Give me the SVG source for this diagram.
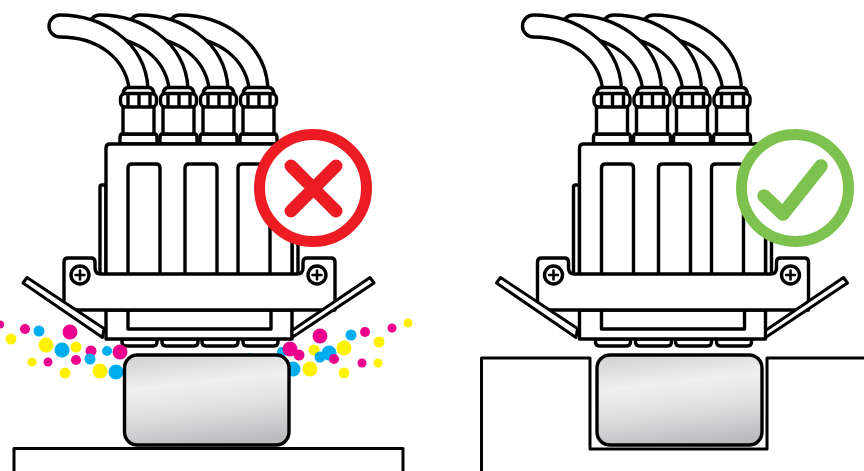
<svg xmlns="http://www.w3.org/2000/svg" xmlns:xlink="http://www.w3.org/1999/xlink" width="864" height="471" viewBox="0 0 864 471">
<style>
.l{fill:#fff;stroke:#000;stroke-width:3.400;stroke-linejoin:round;stroke-linecap:round}
.n{fill:none;stroke:#000;stroke-width:3.400;stroke-linejoin:round;stroke-linecap:round}
.t{fill:none;stroke:#000;stroke-width:3;stroke-linejoin:round;stroke-linecap:butt}
.m{fill:#ec008c}.c{fill:#00aeef}.y{fill:#fff200}
</style>
<defs>
<linearGradient id="g" gradientUnits="userSpaceOnUse" x1="200" y1="355" x2="210" y2="445">
<stop offset="0" stop-color="#d6d6d7"/><stop offset=".3" stop-color="#f0f0f0"/><stop offset=".6" stop-color="#e0e0e1"/><stop offset="1" stop-color="#bcbcbf"/>
</linearGradient>
<linearGradient id="g2" gradientUnits="userSpaceOnUse" x1="674" y1="355" x2="684" y2="445">
<stop offset="0" stop-color="#d6d6d7"/><stop offset=".3" stop-color="#f0f0f0"/><stop offset=".6" stop-color="#e0e0e1"/><stop offset="1" stop-color="#bcbcbf"/>
</linearGradient>
<path id="tube" class="l" d="M60 15C100 15 145 40 148 88L129 88C125 60 100 37 60 37A11 11 0 0 1 60 15Z"/>
<g id="conn">
<path class="l" d="M122 134H155Q157 134 157 138V144H120V138Q120 134 122 134Z"/>
<rect class="l" x="123" y="106" width="31" height="28"/>
<path class="l" d="M123 95Q123 87.500 129 87.500H148Q154 87.500 154 95Z"/>
<rect class="l" x="120.500" y="93.500" width="36" height="13.500" rx="5"/>
<path class="n" d="M128 94V106M139 94V106M150 94V106"/>
</g>
<g id="screw">
<circle class="l" r="9"/>
<path class="n" d="M-4.500 0H4.500M0 -4.500V4.500" style="stroke-width:2.600"/>
</g>
<g id="head">
<use xlink:href="#tube" x="120"/><use xlink:href="#tube" x="80"/><use xlink:href="#tube" x="40"/><use xlink:href="#tube"/>
<use xlink:href="#conn"/><use xlink:href="#conn" x="40"/><use xlink:href="#conn" x="80"/><use xlink:href="#conn" x="120"/>
<path class="l" d="M100 275V187Q100 185 102 185H106V275ZM292 275V185H298V275Z"/>
<path class="l" d="M106 275V148Q106 144 110 144H288Q292 144 292 148V275Z"/>
<path class="n" d="M128 275V168Q128 164 132 164H156Q160 164 160 168V275M185 275V168Q185 164 189 164H213Q217 164 217 168V275M238 275V168Q238 164 242 164H266Q270 164 270 168V275"/>
<path class="l" d="M122 339H157V342Q157 346 153 346H126Q122 346 122 342ZM162 339H198V342Q198 346 194 346H166Q162 346 162 342ZM202 339H238V342Q238 346 234 346H206Q202 346 202 342ZM243 339H278V342Q278 346 274 346H247Q243 346 243 342Z"/>
<path class="l" d="M106 310V339H292V310Z"/>
<path class="n" d="M128 310V329H271V310"/>
<path class="l" d="M64 310V262Q64 258 68 258H91Q95 258 95 262V268Q95 274 101 274H297Q303 274 303 268V262Q303 258 307 258H331Q335 258 335 262V310Z"/>
<use xlink:href="#screw" x="80" y="275"/><use xlink:href="#screw" x="317" y="275"/>
<path class="l" style="stroke-width:3" d="M23 283L27 277.500L104 328.500L102.500 337.500Z"/>
<path class="l" style="stroke-width:3" d="M292 330.500L370 277.500L374 283L292 337.500Z"/>
</g>
</defs>

<g id="ink">
<circle class="c" cx="250" cy="360" r="7"/><circle class="c" cx="282" cy="352" r="5"/>
<circle class="m" cx="0" cy="324.500" r="4"/><circle class="y" cx="11" cy="339" r="5.500"/><circle class="m" cx="25" cy="329" r="5"/><circle class="c" cx="39" cy="331" r="5.500"/><circle class="m" cx="70" cy="332" r="7.500"/><circle class="y" cx="46" cy="345" r="7.500"/><circle class="c" cx="62" cy="350" r="7.500"/><circle class="y" cx="76" cy="347" r="5.500"/><circle class="m" cx="91" cy="351" r="5.500"/><circle class="c" cx="107" cy="351" r="5"/><circle class="y" cx="32" cy="362" r="4.500"/><circle class="m" cx="48" cy="362" r="4.500"/><circle class="m" cx="76" cy="360" r="5"/><circle class="c" cx="90" cy="359" r="5.500"/><circle class="y" cx="65" cy="373" r="5.500"/><circle class="y" cx="100" cy="371" r="7.500"/><circle class="c" cx="116" cy="372" r="7.500"/>
<circle class="m" cx="320" cy="336" r="7.500"/><circle class="c" cx="351" cy="335" r="5.500"/><circle class="m" cx="365" cy="332" r="5"/><circle class="m" cx="392" cy="328" r="4.500"/><circle class="y" cx="408" cy="323" r="4.500"/><circle class="y" cx="379" cy="342" r="5.500"/><circle class="y" cx="344" cy="348" r="7.500"/><circle class="y" cx="314" cy="350" r="5.500"/><circle class="c" cx="329" cy="353" r="7.500"/><circle class="c" cx="320" cy="357" r="5.500"/><circle class="m" cx="334" cy="359" r="5"/><circle class="m" cx="362" cy="363" r="4.500"/><circle class="y" cx="378" cy="363" r="4.500"/><circle class="y" cx="344" cy="373" r="5.500"/><circle class="y" cx="310" cy="369" r="7.500"/><circle class="c" cx="293" cy="369" r="7.500"/>
</g>

<g id="left-head"><use xlink:href="#head"/></g>
<g id="ink-front"><circle class="m" cx="120" cy="352" r="7.500"/><circle class="m" cx="290" cy="349" r="7.500"/><circle class="m" cx="299" cy="355" r="5.500"/></g>
<g id="left-cartridge"><rect x="124.500" y="355" width="164.500" height="90" rx="13" fill="url(#g)" stroke="#000" stroke-width="3.400"/></g>
<g id="left-table"><path class="t" d="M14 471V448.500H403V471"/></g>
<g id="cross">
<circle cx="313" cy="188" r="53.500" fill="#fff" stroke="#ed1c24" stroke-width="11"/>
<path d="M291 166L336 211M336 166L291 211" fill="none" stroke="#ed1c24" stroke-width="13" stroke-linecap="round"/>
</g>

<g id="right-head"><use xlink:href="#head" x="473.500"/></g>
<g id="right-table"><path class="t" d="M481.500 471V358H590V449H767V358H866"/></g>
<g id="right-cartridge"><rect x="597" y="355" width="165" height="90" rx="13" fill="url(#g2)" stroke="#000" stroke-width="3.400"/></g>
<g id="check">
<circle cx="795" cy="188" r="53.500" fill="#fff" stroke="#7dc24e" stroke-width="11"/>
<path d="M764 196L783 214L821 166" fill="none" stroke="#7dc24e" stroke-width="13.500" stroke-linecap="round" stroke-linejoin="round"/>
</g>
</svg>
